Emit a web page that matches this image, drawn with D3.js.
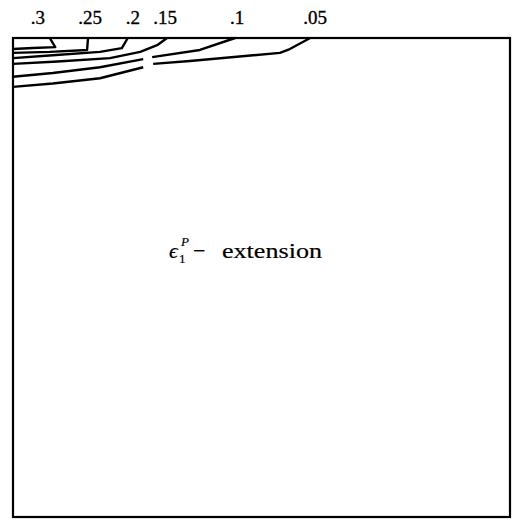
<!DOCTYPE html>
<html>
<head>
<meta charset="utf-8">
<script src="https://cdn.jsdelivr.net/npm/d3@7"></script>
<style>
  html, body { margin: 0; padding: 0; background: #fff; }
  svg { display: block; }
</style>
</head>
<body>
<svg id="chart" width="513" height="521"></svg>
<script>
// Contour levels of plastic strain (extension), labelled along the top edge.
const levels = [".3", ".25", ".2", ".15", ".1", ".05"];

// Where each level label sits along the top edge (x in specimen units, 0-100).
const labelX = [5.0, 15.5, 24.1, 30.6, 45.1, 60.8];

// Contour traces in specimen units: x across (0-100), depth y down from the top (0-100).
// null marks a break in the trace.
const contour30 = [[7.4, 0], [8.5, 1.9], [4.0, 2.1], [0, 2.3]];
const contour25 = [[15.1, 0], [14.9, 2.5], [7.4, 2.9], [0, 3.1]];
const contour20 = [[23.1, 0], [21.9, 2.1], [17.5, 2.9], [8.0, 3.6], [0, 4.2]];
const contour15 = [[31.0, 0], [29.0, 1.5], [25.6, 2.9], [19.5, 4.2], [9.0, 4.9], [0, 5.4]];
const contour10 = [[44.7, 0], [37.6, 2.5], [28.0, 4.0], null, [26.2, 4.4], [17.5, 6.1], [8.0, 7.3], [0, 8.1]];
const contour05 = [[59.8, 0], [55.7, 2.3], [53.7, 3.1], [35.6, 4.8], [28.2, 5.4], null, [26.2, 6.1], [17.5, 8.4], [8.0, 9.5], [0, 10.2]];

const contours = [contour30, contour25, contour20, contour15, contour10, contour05];

const svg = d3.select("#chart");

const x = d3.scaleLinear().domain([0, 100]).range([13, 510]);
const y = d3.scaleLinear().domain([0, 100]).range([38, 517]);

const serif = "'Liberation Serif', 'DejaVu Serif', serif";

// Specimen outline
svg.append("rect")
  .attr("x", x(0)).attr("y", y(0))
  .attr("width", x(100) - x(0)).attr("height", y(100) - y(0))
  .attr("fill", "none")
  .attr("stroke", "#000")
  .attr("stroke-width", 2.2);

// Contour lines
const line = d3.line()
  .defined(d => d !== null)
  .x(d => x(d[0]))
  .y(d => y(d[1]));

svg.append("g")
  .selectAll("path")
  .data(contours)
  .join("path")
  .attr("d", line)
  .attr("fill", "none")
  .attr("stroke", "#000")
  .attr("stroke-width", 2.4)
  .attr("stroke-linejoin", "round");

// Level labels above the top edge
svg.append("g")
  .selectAll("text")
  .data(levels)
  .join("text")
  .attr("x", (d, i) => x(labelX[i]))
  .attr("y", 24)
  .attr("text-anchor", "middle")
  .attr("font-family", serif)
  .attr("font-size", 19)
  .attr("fill", "#000")
  .attr("stroke", "#000")
  .attr("stroke-width", 0.35)
  .text(d => d);

// Field title: epsilon_1^P - extension
const tg = svg.append("g")
  .attr("font-family", serif)
  .attr("fill", "#000")
  .attr("stroke", "#000")
  .attr("stroke-width", 0.2);

tg.append("text")
  .attr("x", 169).attr("y", 258)
  .attr("font-size", 22).attr("font-style", "italic")
  .text("\u03F5");
tg.append("text")
  .attr("x", 179).attr("y", 263)
  .attr("font-size", 13)
  .text("1");
tg.append("text")
  .attr("x", 181).attr("y", 246)
  .attr("font-size", 13).attr("font-style", "italic")
  .text("P");
tg.append("text")
  .attr("x", 193).attr("y", 258)
  .attr("font-size", 22)
  .text("\u2212");
tg.append("text")
  .attr("x", 222).attr("y", 258)
  .attr("font-size", 22)
  .attr("textLength", 100)
  .attr("lengthAdjust", "spacingAndGlyphs")
  .text("extension");
</script>
</body>
</html>
